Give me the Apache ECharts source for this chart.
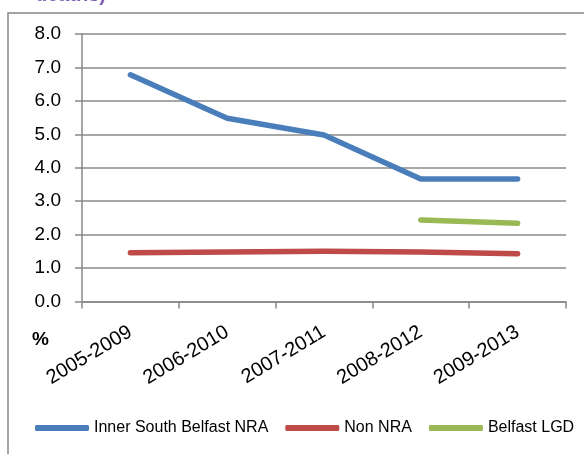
<!DOCTYPE html>
<html>
<head>
<meta charset="utf-8">
<script src="https://cdn.jsdelivr.net/npm/echarts@6/dist/echarts.min.js"></script>
<style>
html,body{margin:0;padding:0;background:#fff;}
#chart{width:584px;height:454px;}
</style>
</head>
<body>
<div id="chart"></div>
<script>
const categories = ['2005-2009', '2006-2010', '2007-2011', '2008-2012', '2009-2013'];
const innerSouthBelfastNRA = [6.78, 5.48, 4.98, 3.66, 3.66];
const nonNRA = [1.46, 1.48, 1.50, 1.48, 1.43];
const belfastLGD = [null, null, null, 2.44, 2.34];
const seriesNames = ['Inner South Belfast NRA', 'Non NRA', 'Belfast LGD'];
const yTicks = { min: 0, max: 8, interval: 1 };

const FONT = '"Liberation Sans", Arial, sans-serif';
const chart = echarts.init(document.getElementById('chart'), null, { renderer: 'canvas' });

function lineSeries(name, data, color) {
  return {
    name: name, type: 'line', data: data, symbol: 'none', smooth: false,
    connectNulls: false, animation: false,
    lineStyle: { color: color, width: 5.5, cap: 'round', join: 'round' },
    itemStyle: { color: color }
  };
}

chart.setOption({
  animation: false,
  backgroundColor: '#fff',
  grid: { left: 82, right: 18, top: 34, bottom: 152.5, containLabel: false },
  xAxis: {
    type: 'category', data: categories, boundaryGap: true,
    axisLine: { lineStyle: { color: '#888', width: 1.5 } },
    axisTick: { show: true, length: 7, interval: 0, lineStyle: { color: '#888', width: 1.5 } },
    axisLabel: { rotate: 31, margin: 29, interval: 0, color: '#000', fontFamily: FONT, fontSize: 20 },
    splitLine: { show: false }
  },
  yAxis: {
    type: 'value', min: yTicks.min, max: yTicks.max, interval: yTicks.interval,
    axisLine: { show: true, lineStyle: { color: '#888', width: 1.5 } },
    axisTick: { show: true, length: 7, lineStyle: { color: '#888', width: 1.5 } },
    axisLabel: { margin: 21, color: '#000', fontFamily: FONT, fontSize: 19, formatter: v => v.toFixed(1) },
    splitLine: { show: true, lineStyle: { color: '#8a8a8a', width: 1.5 } }
  },
  legend: {
    data: seriesNames, left: 30, top: 415, width: 600,
    icon: 'roundRect', itemWidth: 54, itemHeight: 6, itemGap: 17,
    textStyle: { color: '#000', fontFamily: FONT, fontSize: 16 }
  },
  series: [
    lineSeries(seriesNames[0], innerSouthBelfastNRA, '#4a7ebb'),
    lineSeries(seriesNames[1], nonNRA, '#be4b48'),
    lineSeries(seriesNames[2], belfastLGD, '#98b954')
  ],
  graphic: [
    { type: 'rect', silent: true, z: -1,
      shape: { x: 8, y: 13, width: 700, height: 600 },
      style: { fill: 'none', stroke: '#878787', lineWidth: 1.5 } },
    { type: 'text', silent: true, left: 32, top: 330,
      style: { text: '%', fill: '#000', font: 'bold 19px ' + FONT } },
    { type: 'text', silent: true, x: 106, y: 5,
      style: { text: 'deaths)', fill: '#7f5fb3', font: 'bold 20px ' + FONT, align: 'right', verticalAlign: 'bottom' } }
  ]
});
</script>
</body>
</html>
